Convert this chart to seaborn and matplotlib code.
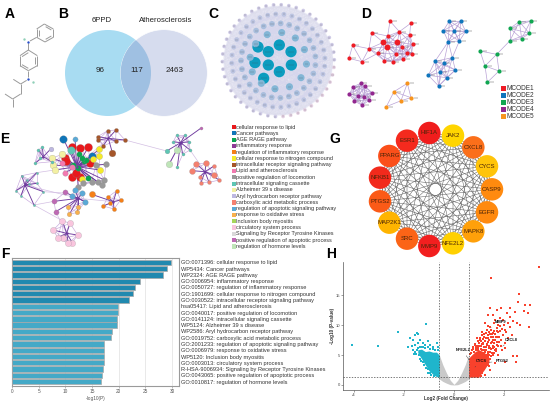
import numpy as np
import pandas as pd
import matplotlib
matplotlib.use("Agg")
import matplotlib.pyplot as plt
from matplotlib.collections import LineCollection
from matplotlib.patches import Circle
import seaborn as sns

sns.set_theme(style="white")
plt.rcParams["font.family"] = ["Liberation Sans", "DejaVu Sans"]

W, H = 550, 403

# === Panel A: molecule (layout) ===
mol_bonds = [
    ((133, 72), (160, 87)), ((160, 87), (160, 112)), ((160, 112), (135, 126)),
    ((135, 126), (110, 112)), ((110, 112), (110, 87)), ((110, 87), (133, 72)),
    ((137, 80), (154, 90)), ((154, 108), (137, 118)), ((116, 108), (116, 91)),
    ((110, 112), (90, 123)), ((85, 130), (85, 150)),
    ((85, 150), (112, 167)), ((112, 167), (112, 197)), ((112, 197), (85, 212)),
    ((85, 212), (60, 197)), ((60, 197), (60, 167)), ((60, 167), (85, 150)),
    ((106, 171), (106, 193)), ((85, 205), (66, 194)), ((66, 170), (85, 158)),
    ((85, 212), (85, 232)), ((80, 241), (62, 252)), ((62, 252), (40, 238)),
    ((62, 252), (62, 282)), ((62, 282), (38, 297)), ((38, 297), (15, 282)),
    ((38, 297), (38, 322)),
]
mol_n = [(85, 125), (85, 238)]
mol_h = [(72, 118), (100, 245)]

# === Panel B: Venn ===
venn_sets = ["6PPD", "Atherosclerosis"]
venn_counts = [96, 117, 2463]

# === Panel C: PPI rings ===
c_inner_x = [193, 228, 229, 193, 160, 160, 120, 146, 129]
c_inner_y = [135, 155, 195, 215, 155, 195, 188, 235, 141]
c_ring_counts = [12, 27, 36, 46]
c_ring_radius = [85, 112, 140, 168]
c_ring_colors = ["#83b6d6", "#a9bedd", "#bcc4e1", "#cfcbe6"]
c_ring_sizes = [26, 17, 12, 7]

# === Panel D: MCODE modules ===
d_names = ["MCODE1", "MCODE2", "MCODE3", "MCODE4", "MCODE5"]
d_colors = ["#ee1c25", "#0f75bc", "#10a651", "#92278f", "#f7941d"]
d_x = [
    [150, 212, 95, 178, 143, 209, 130, 172, 141, 186, 218, 38, 87, 113, 168, 200, 215, 133, 158, 190, 66, 27],
    [328, 362, 310, 342, 377, 325, 358, 285, 311, 337, 300, 265, 320, 346, 296],
    [538, 572, 568, 510, 510, 545, 470, 420, 435, 477, 442],
    [62, 40, 75, 28, 95, 55, 72, 43, 88, 67],
    [202, 162, 213, 183, 139],
]
d_y = [
    [33, 40, 68, 65, 78, 75, 97, 97, 110, 110, 103, 106, 116, 130, 132, 128, 131, 152, 155, 148, 155, 145],
    [33, 33, 62, 63, 64, 95, 93, 154, 160, 143, 187, 196, 203, 180, 228],
    [35, 33, 70, 55, 92, 86, 133, 123, 168, 183, 217],
    [220, 230, 228, 252, 248, 258, 262, 273, 270, 286],
    [220, 245, 263, 272, 290],
]
d_link = [62, 75, 70, 60, 75]

# === Panel E: enrichment network ===
e_terms = [
    "cellular response to lipid", "Cancer pathways", "AGE RAGE pathway", "inflammatory response",
    "regulation of inflammatory response", "cellular response to nitrogen compound",
    "intracellular receptor signaling pathway", "Lipid and atherosclerosis",
    "positive regulation of locomotion", "intracellular signaling cassette", "Alzheimer 39 s disease",
    "Aryl hydrocarbon receptor pathway", "carboxylic acid metabolic process",
    "regulation of apoptotic signaling pathway", "response to oxidative stress",
    "Inclusion body myositis", "circulatory system process", "Signaling by Receptor Tyrosine Kinases",
    "positive regulation of apoptotic process", "regulation of hormone levels",
]
e_colors = [
    "#e8191c", "#0f75b8", "#0aa651", "#8e3a96", "#f57f17", "#f4ea2a", "#a5562a", "#f27ab0", "#999999", "#5ec6b4",
    "#f3f0a3", "#bdb7e0", "#f4806f", "#5aa9d6", "#f8b04d", "#a6d65a", "#f9c5de", "#d9d9d9", "#be69b4", "#bfe5b8",
]
e_clusters = [
    # term index, size, hub, nodes
    (0, 34, (200, 125), [(187, 67), (210, 68), (235, 67), (165, 98), (167, 108), (185, 155), (210, 157), (240, 113), (197, 145)]),
    (1, 30, (200, 125), [(160, 41), (247, 92)]),
    (13, 14, (200, 125), [(195, 41)]),
    (9, 30, (200, 125), [(183, 75)]),
    (2, 16, (200, 125), [(208, 87), (222, 108), (228, 105), (190, 120), (235, 160), (215, 100), (205, 130)]),
    (5, 20, (200, 125), [(268, 73), (267, 92), (270, 135), (250, 103), (215, 162)]),
    (10, 24, (200, 125), [(127, 100), (155, 88), (130, 120), (135, 135)]),
    (7, 16, (200, 125), [(155, 115), (165, 143), (185, 125)]),
    (8, 18, (200, 125), [(258, 120), (287, 118), (283, 165), (265, 172), (275, 180), (245, 170), (220, 175), (205, 185)]),
    (6, 9, (295, 40), [(263, 35), (293, 17), (318, 15), (345, 45), (317, 48), (280, 62), (265, 45)]),
    (6, 24, (295, 40), [(307, 83)]),
    (9, 5, (100, 95), [(97, 66), (85, 75), (75, 115), (125, 110), (90, 100)]),
    (11, 12, (100, 95), [(122, 72)]),
    (9, 3, (45, 180), [(35, 152), (18, 197), (33, 212), (72, 240), (58, 178), (80, 175), (80, 143), (50, 165), (100, 200)]),
    (4, 9, (310, 230), [(320, 197), (332, 225), (293, 217), (312, 252), (280, 243), (300, 235)]),
    (4, 20, (310, 230), [(245, 208)]),
    (14, 11, (205, 220), [(175, 247), (202, 262), (205, 245), (225, 230), (178, 268)]),
    (13, 16, (205, 220), [(225, 230), (185, 213), (195, 195), (215, 205)]),
    (18, 14, (205, 220), [(165, 202), (132, 229), (137, 260)]),
    (16, 20, (170, 325), [(157, 287), (180, 295), (130, 315), (203, 330), (187, 353), (160, 340), (143, 338), (175, 355)]),
    (9, 5, (512, 53), [(500, 30), (525, 30), (490, 50), (538, 50), (540, 75), (518, 88), (502, 125)]),
    (9, 12, (512, 53), [(470, 78)]),
    (19, 22, (512, 53), [(500, 75), (477, 118)]),
    (18, 5, (512, 53), [(572, 10)]),
    (12, 18, (585, 140), [(558, 116), (588, 115), (545, 137), (613, 150)]),
    (12, 8, (585, 140), [(612, 123), (570, 155), (628, 165), (573, 173), (597, 172)]),
]
e_long_links = [
    ((345, 45), (470, 78)), ((100, 95), (200, 125)), ((45, 180), (205, 220)), ((72, 240), (132, 229)),
    ((295, 40), (200, 125)), ((205, 220), (200, 125)), ((205, 220), (310, 230)), ((540, 75), (585, 140)),
    ((80, 143), (200, 125)), ((137, 260), (170, 325)), ((100, 200), (175, 205)), ((72, 240), (157, 287)),
]

# === Panel F: enrichment bars ===
f_labels = [
    "GO:0071396: cellular response to lipid", "WP5434: Cancer pathways", "WP2324: AGE RAGE pathway",
    "GO:0006954: inflammatory response", "GO:0050727: regulation of inflammatory response",
    "GO:1901699: cellular response to nitrogen compound", "GO:0030522: intracellular receptor signaling pathway",
    "hsa05417: Lipid and atherosclerosis", "GO:0040017: positive regulation of locomotion",
    "GO:0141124: intracellular signaling cassette", "WP5124: Alzheimer 39 s disease",
    "WP2586: Aryl hydrocarbon receptor pathway", "GO:0019752: carboxylic acid metabolic process",
    "GO:2001233: regulation of apoptotic signaling pathway", "GO:0006979: response to oxidative stress",
    "WP5120: Inclusion body myositis", "GO:0003013: circulatory system process",
    "R-HSA-9006934: Signaling by Receptor Tyrosine Kinases", "GO:0043065: positive regulation of apoptotic process",
    "GO:0010817: regulation of hormone levels",
]
f_values = [29.8, 29.1, 28.3, 23.9, 23.0, 22.7, 21.9, 19.9, 19.8, 19.7, 19.6, 18.7, 18.5, 17.3, 17.25, 17.2, 17.2, 17.1, 16.8, 16.6]
f_ticks = [0, 5, 10, 15, 20, 25, 30]

# === Panel G: hub genes ===
g_genes = ["HIF1A", "JAK2", "CXCL8", "CYCS", "CASP9", "EGFR", "MAPK8", "NFE2L2", "MMP9", "SRC", "MAP2K1", "PTGS2", "NFKB1", "PPARG", "ESR1"]
g_colors = ["#f01d1d", "#ffd500", "#fb6f1a", "#ffc40a", "#ff8a0f", "#ff8a0f", "#ffa00a", "#ffd000", "#f21f1f", "#fb6417", "#ffb400", "#fb5a17", "#f22a1c", "#fb4f1a", "#f52a1e"]
g_x = [208, 279, 340, 381, 396, 381, 340, 279, 208, 141, 88, 60, 60, 88, 141]
g_y = [9, 17, 52, 109, 178, 247, 304, 340, 348, 326, 278, 214, 143, 78, 32]

# === Panel H: volcano ===
up_x = [2.60, 2.57, 3.04, 2.84, 2.24, 2.44, 2.81, 2.97, 1.44, 1.87, 1.71, 2.11, 2.24, 1.97, 2.37, 2.64, 3.00, 2.53, 2.17, 1.84, 1.64, 1.37, 1.57, 1.24, 1.44, 1.71, 2.04, 2.24, 1.97, 2.31, 2.17, 1.77, 1.57, 1.31, 1.11, 0.91, 1.04, 1.37, 1.51, 1.71, 1.91, 2.04, 1.64, 1.31, 1.17, 0.84, 0.71, 0.97, 1.44, 1.57, 1.31, 1.24, 1.77, 2.37, 2.48, 2.53, 2.04, 1.64, 1.41, 1.44, 1.11, 1.24, 0.97, 1.47, 3.40,
        0.75, 0.80, 0.90, 0.95, 1.00, 1.05, 1.10, 1.15, 1.20, 1.25, 1.30, 1.35, 1.40, 1.45, 1.50, 1.55, 1.60, 1.65, 1.25, 1.35, 1.45, 1.55, 1.65, 1.80, 1.85, 1.90, 1.05, 1.15, 1.30, 1.45, 1.00, 1.10, 1.20, 0.85, 0.70, 1.60, 1.70, 1.90, 2.05, 2.10, 1.75, 2.00, 1.50, 1.35, 1.60, 1.85,
        0.65, 0.72, 0.78, 0.88, 0.92, 0.98, 1.02, 1.08, 1.12, 1.18, 1.22, 1.28, 1.33, 1.38, 1.42, 1.48, 1.52, 1.58, 1.62, 1.68, 1.72, 1.78, 1.82, 1.28, 1.38, 1.42, 1.48, 1.52, 1.58, 1.62, 1.68, 1.72, 1.78, 1.92, 1.30, 1.38, 1.50, 1.42, 1.22, 1.12, 1.28, 1.38, 1.18, 1.08, 1.20, 1.05, 0.95, 1.10, 1.12, 0.88, 1.15, 1.05, 0.98, 1.40, 1.30, 1.20, 1.12]
up_y = [15.25, 13.97, 13.41, 13.41, 12.85, 12.29, 12.46, 12.01, 12.85, 12.85, 12.57, 12.01, 11.45, 10.89, 10.78, 10.06, 9.78, 10.34, 10.34, 11.17, 10.89, 11.73, 11.73, 10.34, 9.78, 9.50, 9.22, 9.78, 8.38, 8.38, 7.82, 8.10, 8.66, 9.22, 8.38, 7.82, 7.54, 7.82, 7.26, 6.70, 5.87, 6.15, 5.87, 6.70, 6.98, 6.70, 5.87, 5.87, 6.15, 5.03, 5.03, 4.19, 5.03, 4.86, 3.85, 4.86, 3.91, 3.63, 3.18, 2.51, 1.96, 1.68, 1.40, 18.0, 19.8,
        6.4, 5.6, 6.2, 5.2, 6.6, 5.5, 6.1, 5.3, 6.4, 5.6, 5.9, 5.2, 6.6, 5.5, 6.0, 6.6, 7.0, 7.6, 7.4, 8.3, 8.5, 8.0, 8.6, 7.2, 9.0, 7.6, 4.6, 4.4, 4.5, 4.4, 7.1, 7.4, 8.0, 6.9, 5.4, 5.4, 6.1, 6.6, 7.0, 8.8, 10.1, 10.0, 9.2, 9.9, 10.3, 9.9,
        5.2, 5.9, 6.1, 5.9, 6.6, 6.2, 7.0, 6.6, 5.8, 6.9, 5.9, 6.3, 6.8, 5.6, 6.2, 7.0, 5.3, 6.2, 6.4, 5.7, 7.2, 6.6, 8.0, 7.9, 7.2, 7.6, 8.1, 8.6, 7.5, 9.0, 8.1, 9.0, 8.8, 9.4, 4.9, 4.7, 4.8, 5.0, 4.2, 3.9, 3.6, 3.3, 3.2, 2.9, 2.6, 2.2, 1.7, 1.5, 6.9, 6.4, 7.7, 7.9, 7.3, 8.9, 8.7, 8.6, 8.9]
down_x = [-4.08, -3.04, -2.23, -1.11, -1.49, -1.43, -1.56, -1.76, -1.63, -1.36, -1.83, -1.69, -1.56, -1.43, -1.23, -1.03, -0.96, -0.83, -0.69, -1.29, -1.49, -1.63, -0.63, -1.16, -1.03, -0.93,
          -1.50, -1.40, -1.45, -1.35, -1.25, -1.15, -1.05, -0.95, -0.85, -0.75, -1.25, -1.20, -1.10, -1.05, -0.95, -0.80, -1.35, -1.30, -0.65, -1.55, -1.60]
down_y = [6.76, 6.59, 8.94, 10.22, 8.66, 8.49, 8.38, 7.82, 7.54, 7.54, 6.42, 6.54, 6.70, 6.98, 6.98, 7.37, 6.70, 6.42, 6.98, 6.42, 5.87, 5.87, 6.42, 6.70, 1.96, 1.68,
          5.2, 5.0, 6.2, 6.4, 6.3, 6.2, 6.3, 6.0, 6.0, 5.9, 3.8, 3.4, 2.9, 2.6, 2.0, 1.55, 4.4, 4.1, 5.9, 5.5, 5.2]
# outlines of the saturated parts of the cloud
up_band_x = [0.585, 0.7, 0.85, 1.0, 1.2, 1.4]
up_band_low = [1.3, 1.3, 1.3, 1.4, 2.5, 3.8]
up_band_high = [4.5, 5.0, 5.6, 5.9, 5.5, 4.6]
down_band_x = [-1.45, -1.3, -1.15, -1.0, -0.85, -0.7, -0.585]
down_band_low = [5.4, 4.4, 3.4, 2.4, 1.8, 1.4, 1.3]
down_band_high = [5.9, 6.0, 5.6, 5.7, 5.5, 5.5, 5.0]
ns_band_x = [-0.585, -0.45, -0.3, -0.15, 0.0, 0.15, 0.3, 0.45, 0.585]
ns_band_low = [1.0, 0.6, 0.3, 0.05, 0.0, 0.05, 0.3, 0.6, 1.0]
ns_band_high = [5.0, 3.4, 2.0, 0.8, 0.1, 0.8, 2.0, 3.4, 5.0]
h_genes = ["MMP9", "CXCL8", "NFE2L2", "CYCS", "PTGS2"]
h_gene_x = [1.51, 1.95, 0.60, 0.84, 1.40]
h_gene_y = [9.6, 6.5, 4.2, 3.0, 3.8]
h_text_x = [1.88, 2.28, 0.35, 1.11, 1.91]
h_text_y = [10.5, 7.6, 5.8, 4.0, 4.0]


def px_axes(fig, x0, y0, w, h):
    ax = fig.add_axes([x0 / W, 1 - (y0 + h) / H, w / W, h / H])
    ax.set_xlim(0, w * 3)
    ax.set_ylim(h * 3, 0)
    ax.axis("off")
    ax.patch.set_alpha(0)
    return ax


def label_at(fig, x, y, s, **kw):
    kw.setdefault("ha", "center")
    kw.setdefault("va", "center")
    fig.text(x / W, 1 - y / H, s, **kw)


def nodes(ax, xs, ys, color, size, **kw):
    sns.scatterplot(x=xs, y=ys, color=color, s=size, linewidth=kw.pop("linewidth", 0), ax=ax, legend=False, zorder=3, **kw)


fig = plt.figure(figsize=(W / 100, H / 100), dpi=100, facecolor="white")

for s, x, y in [("A", 10, 14), ("B", 63, 14), ("C", 213, 14), ("D", 366, 14), ("E", 5, 139), ("G", 335, 139), ("F", 5, 254), ("H", 331, 254)]:
    label_at(fig, x, y, s, fontsize=10, fontweight="bold", color="black")

# --- A ---
ax = px_axes(fig, 0, 20, 70, 100)
ax.set_ylim(360, 60)
ax.add_collection(LineCollection(mol_bonds, colors="#9a9a9a", linewidths=0.7))
nodes(ax, [p[0] for p in mol_n], [p[1] for p in mol_n], "#2a50c8", 3)
nodes(ax, [p[0] for p in mol_h], [p[1] for p in mol_h], "#8fd0b8", 3)

# --- B ---
ax = px_axes(fig, 55, 18, 160, 105)
ax.add_patch(Circle((159, 165), 129, fc="#a8dcf2", ec="none"))
ax.add_patch(Circle((327, 165), 130, fc="#d3daed", ec="white", lw=0.5, alpha=0.93))
clip = Circle((159, 165), 129, transform=ax.transData)
lens = Circle((327, 165), 130, fc="#9fc0e2", ec="none")
ax.add_patch(lens)
lens.set_clip_path(clip)
label_at(fig, 102, 21, venn_sets[0], fontsize=5.6, color="#222222")
label_at(fig, 166, 21, venn_sets[1], fontsize=5.6, color="#222222")
for x, n in zip([100, 137, 175], venn_counts):
    label_at(fig, x, 70.5, str(n), fontsize=5.8, color="#222222")

# --- C ---
ax = px_axes(fig, 215, 0, 125, 122)
cx, cy = 190, 182
ax.add_patch(Circle((cx, cy), 164, fc="#e9e9f5", ec="none", zorder=0))
ring_x, ring_y, ring_c, ring_s = list(c_inner_x), list(c_inner_y), ["#0b9cbf"] * len(c_inner_x), [66] * len(c_inner_x)
for n, r, col, size in zip(c_ring_counts, c_ring_radius, c_ring_colors, c_ring_sizes):
    for i in range(n):
        a = 2 * np.pi * i / n + 0.12
        ring_x.append(cx + r * np.cos(a))
        ring_y.append(cy + r * np.sin(a))
        # outer ring goes pink at the lower right
        ring_c.append("#e4d0e2" if (r == 168 and 0 < a < 1.6) else col)
        ring_s.append(size)
segs = [((ring_x[i], ring_y[i]), (ring_x[j], ring_y[j])) for i in range(len(ring_x)) for j in range(i + 1, len(ring_x)) if (i * 7 + j * 3) % 5 == 0]
ax.add_collection(LineCollection(segs, colors="#d6d6ec", linewidths=0.12, alpha=0.45, zorder=1))
sns.scatterplot(x=ring_x, y=ring_y, c=ring_c, s=ring_s, linewidth=0, ax=ax, legend=False, zorder=3)
sns.scatterplot(x=ring_x, y=ring_y, marker="_", color="#444444", s=[v * 0.3 for v in ring_s], linewidth=0.3, alpha=0.55, ax=ax, legend=False, zorder=4)

# --- D ---
ax = px_axes(fig, 340, 10, 210, 105)
for xs, ys, col, link in zip(d_x, d_y, d_colors, d_link):
    segs = [((xs[i], ys[i]), (xs[j], ys[j])) for i in range(len(xs)) for j in range(i + 1, len(xs)) if np.hypot(xs[i] - xs[j], ys[i] - ys[j]) < link]
    ax.add_collection(LineCollection(segs, colors="#b9a2d6", linewidths=0.5, zorder=1))
    nodes(ax, xs, ys, col, 9)
    sns.scatterplot(x=[v + 14 for v in xs], y=ys, marker="_", color="#666666", s=6, linewidth=0.35, ax=ax, legend=False, zorder=2)
nodes(ax, [172, 130, 141], [97, 97, 110], d_colors[0], 18)
for i, (name, col) in enumerate(zip(d_names, d_colors)):
    y = 88.3 + i * 7.05
    fig.patches.append(plt.Rectangle((500.5 / W, 1 - (y + 2.4) / H), 5 / W, 5 / H, transform=fig.transFigure, fc=col, ec="none"))
    label_at(fig, 506.5, y, name, fontsize=4.7, ha="left", color="#333333")

# --- E ---
ax = px_axes(fig, 10, 125, 220, 125)
spokes, webs = [], []
for term, size, hub, pts in e_clusters:
    spokes += [(hub, p) for p in pts]
    webs += [(p, q) for k, p in enumerate(pts) for q in pts[k + 1:] if np.hypot(p[0] - q[0], p[1] - q[1]) < 55]
hubs = {c[2] for c in e_clusters}
ax.add_collection(LineCollection(e_long_links, colors="#d3bfe3", linewidths=0.5, zorder=1))
ax.add_collection(LineCollection(webs, colors="#c6a6dc", linewidths=0.45, zorder=1))
ax.add_collection(LineCollection(spokes, colors="#6f3a9e", linewidths=0.65, zorder=2))
for term, size, hub, pts in e_clusters:
    sns.scatterplot(x=[p[0] for p in pts], y=[p[1] for p in pts], color=e_colors[term], s=size, edgecolor="#888888", linewidth=0.15, ax=ax, legend=False, zorder=3)
sns.scatterplot(x=[h[0] for h in hubs], y=[h[1] for h in hubs], color="#6f3a9e", s=3, linewidth=0, ax=ax, legend=False, zorder=3)
for i, (term, col) in enumerate(zip(e_terms, e_colors)):
    y = 127 + i * 6.28
    fig.patches.append(plt.Rectangle((231.5 / W, 1 - (y + 2.2) / H), 4.2 / W, 4.2 / H, transform=fig.transFigure, fc=col, ec="none"))
    label_at(fig, 236.5, y, term, fontsize=4.0, ha="left", color="#333333")

# --- F ---
ax = fig.add_axes([12 / W, 1 - 386 / H, 167 / W, 128 / H])
bars = pd.DataFrame({"term": f_labels, "value": f_values})
bars["strong"] = [v > 21 for v in f_values]
sns.barplot(data=bars, y="term", x="value", hue="strong", palette={True: "#0a94c6", False: "#2eb5dd"}, dodge=False, legend=False,
            width=0.85, edgecolor="#a8a8a8", linewidth=0.5, ax=ax, zorder=3)
ax.set_xlim(0, 31.3)
ax.set_ylim(len(f_values) - 0.3, -0.7)
ax.set_xticks(f_ticks)
ax.xaxis.grid(True, color="#d9d9d9", lw=0.4)
ax.set_axisbelow(True)
ax.yaxis.tick_right()
ax.tick_params(axis="y", length=0, pad=1.5, labelsize=4.05, labelcolor="#333333")
ax.tick_params(axis="x", length=1.5, width=0.4, pad=1, labelsize=3.4, labelcolor="#555555", color="#888888", bottom=True)
ax.set_ylabel("")
ax.set_xlabel("-log10(P)", fontsize=3.4, color="#555555")
ax.xaxis.set_label_coords(0.5, -0.075)
for s in ax.spines.values():
    s.set_color("#9a9a9a")
    s.set_linewidth(0.8)

# --- G ---
ax = px_axes(fig, 360, 120, 190, 150)
ax.set_ylim(420, -30)
segs = [((g_x[i], g_y[i]), (g_x[j], g_y[j])) for i in range(len(g_x)) for j in range(i + 1, len(g_x))]
ax.add_collection(LineCollection(segs, colors="#5a5a5a", linewidths=0.35, zorder=1))
sns.scatterplot(x=g_x, y=g_y, c=g_colors, s=262, linewidth=0, ax=ax, legend=False, zorder=3)
for x, y, gene in zip(g_x, g_y, g_genes):
    ax.text(x, y, gene, fontsize=4.3, ha="center", va="center", color="#4a2408", zorder=4)

# --- H ---
ax = fig.add_axes([342.7 / W, 1 - 390 / H, (549 - 342.7) / W, 128 / H])
ax.fill_between(ns_band_x, ns_band_low, ns_band_high, color="#c9c9c9", lw=0, zorder=1)
ax.fill_between(down_band_x, down_band_low, down_band_high, color="#1fb5cc", lw=0, zorder=2)
ax.fill_between(up_band_x, up_band_low, up_band_high, color="#f8412c", lw=0, zorder=2)
sns.scatterplot(x=down_x, y=down_y, color="#1fb5cc", marker="s", s=1.8, linewidth=0, ax=ax, legend=False, zorder=2)
sns.scatterplot(x=up_x, y=up_y, color="#f8412c", marker="s", s=1.8, linewidth=0, ax=ax, legend=False, zorder=2)
ax.set_xlim(-4.452, 3.8)
ax.set_ylim(-0.84, 20.6)
for v in [-0.585, 0.585]:
    ax.axvline(v, color="#444444", lw=0.5, ls=(0, (2, 2)), zorder=3)
ax.axhline(1.3, color="#444444", lw=0.5, ls=(0, (2, 2)), zorder=3)
for gene, gx, gy, tx, ty in zip(h_genes, h_gene_x, h_gene_y, h_text_x, h_text_y):
    ax.annotate(gene, (gx, gy), (tx, ty), fontsize=2.9, fontweight="bold", ha="center", va="center", color="#111111", zorder=5,
                arrowprops=dict(arrowstyle="-", lw=0.3, color="#333333", shrinkA=0, shrinkB=0))
ax.set_xticks([-4, -2, 0, 2])
ax.set_xticklabels(["-4", "-2", "0", "2"])
ax.set_yticks([0, 5, 10, 15])
ax.tick_params(length=1.5, width=0.4, pad=0.5, labelsize=3, labelcolor="#444444", color="#555555", bottom=True, left=True)
ax.set_xlabel("Log2 (Fold Change)", fontsize=3.3, fontweight="bold", color="#333333")
ax.xaxis.set_label_coords(0.5, -0.045)
ax.set_ylabel("-Log10 (P-value)", fontsize=3.3, fontweight="bold", color="#333333")
ax.yaxis.set_label_coords(-0.035, 0.5)
sns.despine(ax=ax)
for s in ["left", "bottom"]:
    ax.spines[s].set_color("#555555")
    ax.spines[s].set_linewidth(0.5)

fig.savefig("out.png", dpi=100)
plt.close(fig)
